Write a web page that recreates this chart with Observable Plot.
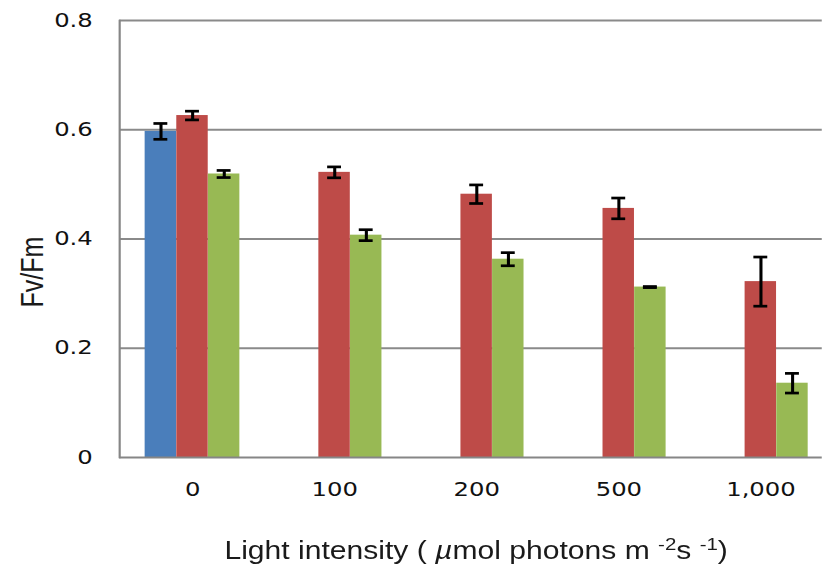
<!DOCTYPE html>
<html>
<head>
<meta charset="utf-8">
<script src="https://cdn.jsdelivr.net/npm/d3@7"></script>
<script src="https://cdn.jsdelivr.net/npm/@observablehq/plot@0.6"></script>
<style>
  html, body { margin: 0; padding: 0; background: #fff; overflow: hidden; }
  #wrap { position: relative; width: 642px; height: 566px; transform: scaleX(1.28); transform-origin: 0 0; }
  #xtitle { position: absolute; left: 0; width: 744px; top: 538px; text-align: center;
            transform: scaleX(0.94); transform-origin: 372px 0;
            font-family: "Liberation Sans", Arial, sans-serif; font-size: 25px; line-height: 25px; color: #1a1a1a; white-space: nowrap; }
  #xtitle sup { font-size: 17px; vertical-align: 9px; line-height: 0; }
  #ytitle { position: absolute; left: 25px; top: 272px; transform: translate(-50%, -50%) rotate(-90deg);
            font-family: "Liberation Sans", Arial, sans-serif; font-size: 25px; line-height: 25px; color: #1a1a1a; white-space: nowrap; }
</style>
</head>
<body>
<div id="wrap">
  <div id="chart"></div>
  <div id="ytitle">Fv/Fm</div>
  <div id="xtitle">Light intensity ( <i>µ</i>mol photons m <sup>-2</sup>s <sup>-1</sup>)</div>
</div>
<script>
// ---- data ----
const categories = ["0", "100", "200", "500", "1,000"];
const blueValues = [0.597, null, null, null, null];
const blueErrors = [0.0145, null, null, null, null];
const redValues = [0.626, 0.522, 0.482, 0.456, 0.322];
const redErrors = [0.008, 0.010, 0.017, 0.019, 0.045];
const greenValues = [0.519, 0.407, 0.363, 0.312, 0.136];
const greenErrors = [0.0065, 0.010, 0.012, 0.001, 0.018];
const yTicks = [0, 0.2, 0.4, 0.6, 0.8];

// ---- layout ----
const W = 642, H = 528;
const xRange = [93, 650.5];
const padInner = 0.335, padOuter = 0.1675;
const step = (xRange[1] - xRange[0]) / (categories.length - padInner + 2 * padOuter);
const bw = step * (1 - padInner);
const bw3 = bw / 3;
const capW = 11;
const capInset = (bw - capW) / 2;

const series = [
  {values: blueValues, errors: blueErrors, color: "#4A7EBB", k: -1},
  {values: redValues, errors: redErrors, color: "#BE4B48", k: 0},
  {values: greenValues, errors: greenErrors, color: "#98B954", k: 1}
];

const barMarks = [];
const errMarks = [];
for (const s of series) {
  const rows = categories.map((c, i) => ({cat: c, v: s.values[i], e: s.errors[i]})).filter(d => d.v != null);
  barMarks.push(Plot.barY(rows, {x: "cat", y: "v", fill: s.color, dx: s.k * bw3, insetLeft: bw3, insetRight: bw3}));
  errMarks.push(Plot.ruleX(rows, {x: "cat", y1: d => d.v - d.e, y2: d => d.v + d.e, dx: s.k * bw3, stroke: "#000", strokeWidth: 2.4}));
  errMarks.push(Plot.tickY(rows, {x: "cat", y: d => d.v + d.e, dx: s.k * bw3, insetLeft: capInset, insetRight: capInset, stroke: "#000", strokeWidth: 2.7}));
  errMarks.push(Plot.tickY(rows, {x: "cat", y: d => d.v - d.e, dx: s.k * bw3, insetLeft: capInset, insetRight: capInset, stroke: "#000", strokeWidth: 2.7}));
}

const chart = Plot.plot({
  width: W,
  height: H,
  marginTop: 20,
  marginBottom: H - 457,
  marginLeft: xRange[0],
  marginRight: 0,
  style: {fontFamily: "'DejaVu Sans', sans-serif", fontSize: "19px", color: "#111", background: "#fff", overflow: "visible"},
  x: {domain: categories, range: xRange, paddingInner: padInner, paddingOuter: padOuter, label: null},
  y: {domain: [0, 0.8], label: null},
  marks: [
    Plot.ruleY(yTicks.filter(d => d > 0), {stroke: "#8a8a8a", strokeWidth: 2}),
    ...barMarks,
    Plot.ruleY([0], {stroke: "#868686", strokeWidth: 2}),
    Plot.frame({anchor: "left", stroke: "#868686", strokeWidth: 1.7}),
    Plot.axisX({tickSize: 0, tickPadding: 25, label: null}),
    Plot.axisY({ticks: yTicks, tickFormat: d => d === 0 ? "0" : d.toFixed(1), tickSize: 0, tickPadding: 21, label: null}),
    ...errMarks
  ]
});
document.getElementById("chart").appendChild(chart);
</script>
</body>
</html>
